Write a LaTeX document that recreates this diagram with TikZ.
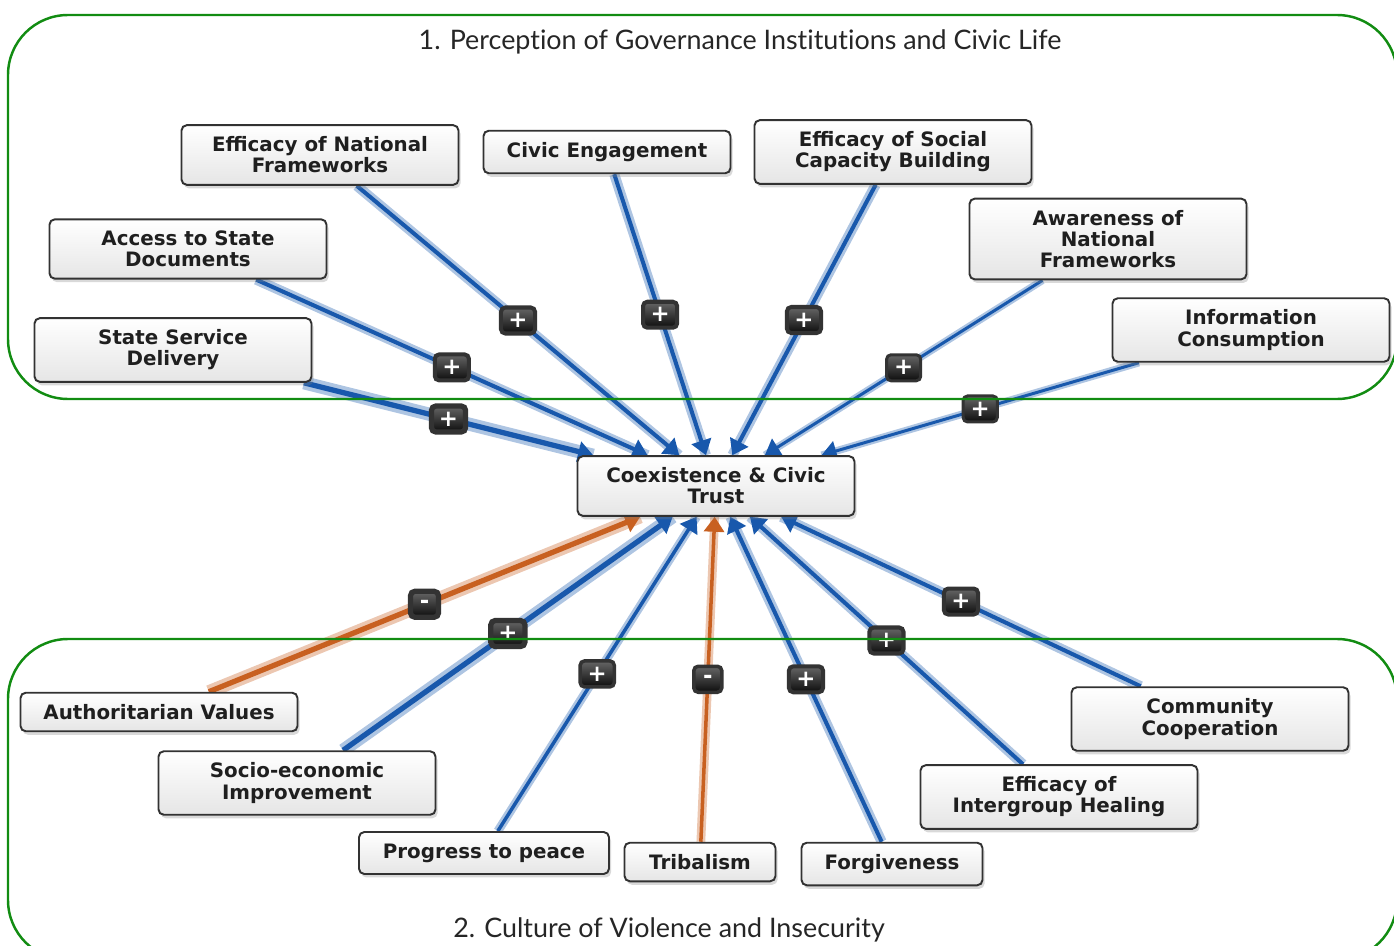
\documentclass[tikz,border=0pt]{standalone}
\usepackage{fontspec}
\setmainfont{DejaVu Sans}
\newfontfamily\titlefont[Ligatures=NoCommon]{Lato}
\usetikzlibrary{arrows.meta,shadows}

\definecolor{linkblue}{RGB}{24,88,172}
\definecolor{linkorange}{RGB}{200,96,32}
\definecolor{framegreen}{RGB}{18,140,18}
\definecolor{boxline}{RGB}{50,50,50}

\pgfdeclarelayer{background}
\pgfsetlayers{background,main}

\tikzset{
  factor/.style={draw=boxline, line width=1.1pt, rounded corners=3pt,
    top color=white, bottom color=black!10, align=center, text=black!88,
    font=\fontsize{11.3}{12}\selectfont\bfseries, inner xsep=4pt, inner ysep=6.6pt,
    drop shadow={shadow xshift=1.2pt, shadow yshift=-2pt, opacity=0.3}},
  sign/.style={top color=black!60, bottom color=black!95, draw=black!80,
    rounded corners=2.5pt, text=white, font=\fontsize{13}{13}\selectfont\bfseries,
    minimum width=0.56cm, minimum height=0.52cm, inner xsep=0.15cm, inner ysep=0pt},
  region/.style={draw=framegreen, line width=1.4pt, rounded corners=1.2cm},
  heading/.style={font=\titlefont\fontsize{15.3}{15.3}\selectfont, text=black!85}
}

\begin{document}
\begin{tikzpicture}[x=0.02cm, y=-0.02cm]
\clip (0,0) rectangle (1394,946);

\foreach \x/\y/\n/\w/\t in {320/155/enf/277/{Efficacy of National\\Frameworks},
    607/152/civ/247/{Civic Engagement}, 893/152/esc/277/{Efficacy of Social\\Capacity Building},
    1108/239/anf/277/{Awareness of\\National\\Frameworks}, 1251/330/inf/277/{Information\\Consumption},
    188/249/asd/277/{Access to State\\Documents}, 173/350/ssd/277/{State Service\\Delivery},
    716/486/coex/277/{Coexistence \& Civic\\Trust}, 159/712/auth/277/{Authoritarian Values},
    297/783/socio/277/{Socio-economic\\Improvement}, 484/853/peace/250/{Progress to peace},
    700/862/trib/151/{Tribalism}, 892/864/forg/181/{Forgiveness},
    1059/797/heal/277/{Efficacy of\\Intergroup Healing}, 1210/719/comm/277/{Community\\Cooperation}}
  \node[factor, minimum width=\w*0.02cm] (\n) at (\x,\y) {\t};

% links into the central factor
\begin{pgfonlayer}{background}
\foreach \s/\c/\w/\m in {enf/linkblue/2.3/+, civ/linkblue/2.3/+, esc/linkblue/2.3/+,
    anf/linkblue/1.7/+, inf/linkblue/1.7/+, asd/linkblue/2.3/+, ssd/linkblue/3.0/+,
    auth/linkorange/3.0/-, socio/linkblue/3.0/+, peace/linkblue/2.0/+, trib/linkorange/2.0/-,
    forg/linkblue/2.3/+, heal/linkblue/2.3/+, comm/linkblue/2.3/+}{
  \draw[\c!35, line width=2.5*\w pt] (\s) -- (coex);
  \draw[\c, line width=\w pt, -{Triangle[length=0.3cm, width=0.4cm]}] (\s) -- (coex)
    node[sign, pos=0.5] {\m};
}
\end{pgfonlayer}

\draw[region] (8,15) rectangle (1397,399);
\draw[region] (8,639) rectangle (1397,960);
\node[heading] (percep) at (740,42) {1. Perception of Governance Institutions and Civic Life};
\node[heading] (violence) at (669,930) {2. Culture of Violence and Insecurity};
\end{tikzpicture}
\end{document}
